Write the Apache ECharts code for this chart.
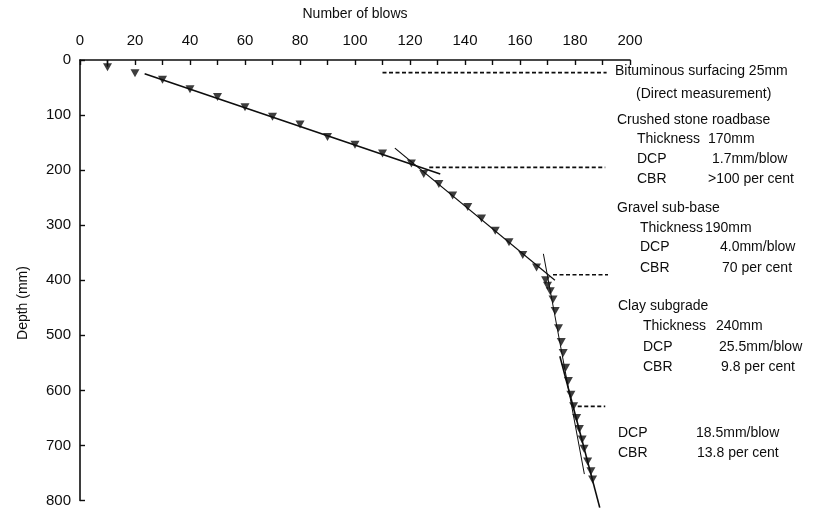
<!DOCTYPE html>
<html>
<head>
<meta charset="utf-8">
<script src="https://cdn.jsdelivr.net/npm/echarts@6/dist/echarts.min.js"></script>
<style>html,body{margin:0;padding:0;background:#fff}#c{width:826px;height:508px}</style>
</head>
<body>
<div id="c"></div>
<script>
// ---- data ----
const xTicks = [0, 20, 40, 60, 80, 100, 120, 140, 160, 180, 200];
const yTicks = [0, 100, 200, 300, 400, 500, 600, 700, 800];
const blows = [10, 20, 30, 40, 50, 60, 70, 80, 90, 100, 110, 120.5, 125, 130.5, 135.5, 141, 146, 151, 156, 161, 166, 169.3, 170, 171, 172, 172.8, 174, 175, 175.7, 176.6, 177.6, 178.5, 179.5, 180.6, 181.6, 182.6, 183.3, 184.6, 185.8, 186.4];
const depth = [13, 24, 36, 53, 67, 86, 103, 117, 140, 154, 170, 188, 207, 225, 246, 267, 288, 310, 331, 354, 377, 400, 410, 420, 435, 456, 487, 512, 532, 559, 583, 608, 629, 650, 670, 689, 706, 729, 747, 762];
const firstStem = [[10, 0], [10, 12]];
const fitRoadbase = [[23.5, 25], [131, 207]];
const fitSubbase = [[114.5, 160], [172.7, 400]];
const fitSubgrade = [[168.5, 352], [183.4, 752]];
const fitLower = [[174.5, 538], [189, 813]];
const boundaries = [
  [[110, 23], [191.5, 23]],
  [[127, 195], [191, 195]],
  [[172, 390], [192, 390]],
  [[181, 629], [191, 629]]
];
const xTitle = 'Number of blows';
const yTitle = 'Depth (mm)';
const notes = [
  ['Bituminous surfacing 25mm', 615, 71],
  ['(Direct measurement)', 636, 94],
  ['Crushed stone roadbase', 617, 120],
  ['Thickness', 637, 139], ['170mm', 708, 139],
  ['DCP', 637, 159], ['1.7mm/blow', 712, 159],
  ['CBR', 637, 179], ['>100 per cent', 708, 179],
  ['Gravel sub-base', 617, 208],
  ['Thickness', 640, 228], ['190mm', 705, 228],
  ['DCP', 640, 247], ['4.0mm/blow', 720, 247],
  ['CBR', 640, 268], ['70 per cent', 722, 268],
  ['Clay subgrade', 618, 306],
  ['Thickness', 643, 326], ['240mm', 716, 326],
  ['DCP', 643, 347], ['25.5mm/blow', 719, 347],
  ['CBR', 643, 367], ['9.8 per cent', 721, 367],
  ['DCP', 618, 433], ['18.5mm/blow', 696, 433],
  ['CBR', 618, 453], ['13.8 per cent', 697, 453]
];

const FONT = '"Liberation Sans", Arial, sans-serif';
const INK = '#0d0d0d';
const points = blows.map((b, i) => [b, depth[i]]);

function lineSeries(data, extra) {
  return Object.assign({
    type: 'line', data: data, symbol: 'none', silent: true, animation: false,
    lineStyle: { color: INK, width: 1.6 }, z: 3, clip: false
  }, extra || {});
}

const series = [
  lineSeries(firstStem, { lineStyle: { color: INK, width: 1.4 } }),
  lineSeries(fitRoadbase),
  lineSeries(fitSubbase, { lineStyle: { color: INK, width: 1.2 } }),
  lineSeries(fitSubgrade, { lineStyle: { color: INK, width: 1.0 } }),
  lineSeries(fitLower),
  ...boundaries.map(b => lineSeries(b, { lineStyle: { color: INK, width: 1.6, type: [4, 2.5] } })),
  {
    type: 'scatter', data: points, symbol: 'triangle', symbolRotate: 180,
    symbolSize: [9, 8], itemStyle: { color: INK }, z: 5, animation: false, silent: true
  }
];

const chart = echarts.init(document.getElementById('c'), null, { renderer: 'canvas' });
chart.setOption({
  backgroundColor: '#fff',
  animation: false,
  grid: { left: 80, top: 60, right: 196, bottom: 7, containLabel: false },
  xAxis: {
    type: 'value', position: 'top', min: xTicks[0], max: xTicks[xTicks.length - 1], interval: 20,
    name: xTitle, nameLocation: 'middle', nameGap: 39,
    nameTextStyle: { fontFamily: FONT, fontSize: 14, color: INK },
    axisLine: { show: true, onZero: false, lineStyle: { color: INK, width: 1.6 } },
    axisTick: { show: true, inside: true, length: 5, lineStyle: { color: INK, width: 1.4 } },
    minorTick: { show: true, splitNumber: 2, length: 5, lineStyle: { color: INK, width: 1.4 } },
    axisLabel: { fontFamily: FONT, fontSize: 15, color: INK, margin: 12 },
    splitLine: { show: false }
  },
  yAxis: {
    type: 'value', inverse: true, min: yTicks[0], max: yTicks[yTicks.length - 1], interval: 100,
    axisLine: { show: true, onZero: false, lineStyle: { color: INK, width: 1.6 } },
    axisTick: { show: true, inside: true, length: 5, lineStyle: { color: INK, width: 1.4 } },
    axisLabel: { fontFamily: FONT, fontSize: 15, color: INK, margin: 9 },
    splitLine: { show: false }
  },
  graphic: [
    {
      type: 'text', x: 23, y: 303, rotation: Math.PI / 2, silent: true,
      style: { text: yTitle, font: '14px ' + FONT, fill: INK, align: 'center', verticalAlign: 'middle' }
    }
  ].concat(notes.map(n => ({
    type: 'text', x: n[1], y: n[2], silent: true,
    style: { text: n[0], font: '14px ' + FONT, fill: INK, verticalAlign: 'middle', align: 'left' }
  }))),
  series: series
});
</script>
</body>
</html>
